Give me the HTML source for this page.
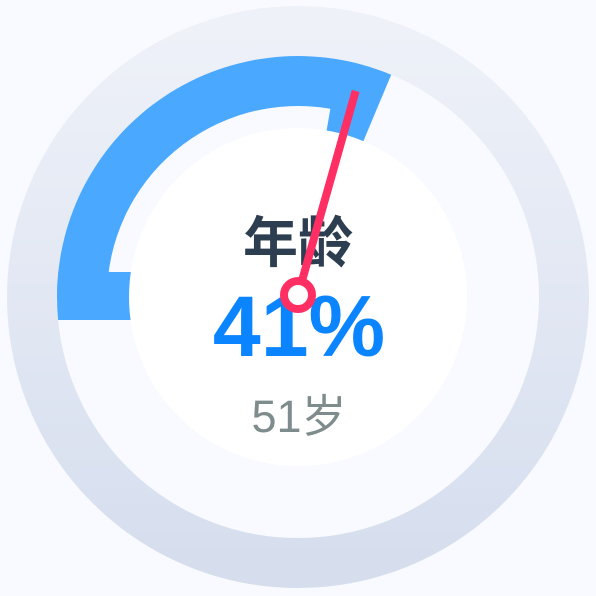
<!DOCTYPE html>
<html><head><meta charset="utf-8"><style>
html,body{margin:0;padding:0;background:#f8faff;}
svg{display:block;font-family:"Liberation Sans","Noto Sans CJK SC",sans-serif;}
</style></head><body>
<svg id="c" width="596" height="596" viewBox="0 0 596 596">
<defs><linearGradient id="g" x1="0" y1="0" x2="0" y2="1"><stop offset="0" stop-color="#eef1f8"/><stop offset="1" stop-color="#d6deee"/></linearGradient>
<clipPath id="clipOuter"><circle cx="298" cy="297" r="241"/></clipPath></defs>
<rect width="596" height="596" fill="#f8faff"/>
<circle cx="298" cy="297" r="266" fill="none" stroke="url(#g)" stroke-width="50"/>
<g id="marks"></g>
<text x="298" y="262" text-anchor="middle" font-size="55" font-weight="bold" fill="#2c3e50">年龄</text>
<text id="pct" x="299" y="356" text-anchor="middle" font-size="86" font-weight="bold" fill="#0a84ff">41%</text>
<text id="sub" x="299" y="432" text-anchor="middle" font-size="45" fill="#7f8c8d">51岁</text>
</svg>
<script>
const gaugeValue = [41];
const ageValue = [51];
const cx=298, cy=297, startDeg=-90, arcRange=275, needleRange=258;
const ns="http://www.w3.org/2000/svg";
const g=document.getElementById('marks');
function pt(r,deg){const a=deg*Math.PI/180;return [cx+r*Math.sin(a),cy-r*Math.cos(a)];}
function sector(r0,r1,a0,a1){
  const large=(a1-a0)>180?1:0;
  const [x0,y0]=pt(r1,a0),[x1,y1]=pt(r1,a1),[x2,y2]=pt(r0,a1),[x3,y3]=pt(r0,a0);
  return `M${x0},${y0}A${r1},${r1} 0 ${large} 1 ${x1},${y1}L${x2},${y2}A${r0},${r0} 0 ${large} 0 ${x3},${y3}Z`;
}
const endDeg=startDeg+gaugeValue[0]/100*arcRange;
const arc=document.createElementNS(ns,'path');
arc.setAttribute('d',sector(168,241,startDeg,endDeg));
arc.setAttribute('fill','#4aa8ff');


g.appendChild(arc);
const pale=document.createElementNS(ns,'path');
pale.setAttribute('d',sector(166,191,startDeg,endDeg-13));
pale.setAttribute('fill','#f8faff');


g.appendChild(pale);
const foot=document.createElementNS(ns,'rect');
foot.setAttribute('x',55);foot.setAttribute('y',272);foot.setAttribute('width',76);foot.setAttribute('height',48);
foot.setAttribute('fill','#4aa8ff');
foot.setAttribute('clip-path','url(#clipOuter)');


g.appendChild(foot);
const disc=document.createElementNS(ns,'circle');
disc.setAttribute('cx',cx);disc.setAttribute('cy',cy);disc.setAttribute('r',169);
disc.setAttribute('fill','#ffffff');


g.appendChild(disc);
document.getElementById('pct').textContent=gaugeValue[0]+'%';
document.getElementById('sub').textContent=ageValue[0]+'岁';
const nd=startDeg+gaugeValue[0]/100*needleRange;
const [tx,ty]=pt(212,nd),[px,py]=[cx,cy-2];
const ln=document.createElementNS(ns,'line');
ln.setAttribute('x1',px);ln.setAttribute('y1',py);ln.setAttribute('x2',tx);ln.setAttribute('y2',ty-2);
ln.setAttribute('stroke','#ff2e63');ln.setAttribute('stroke-width','8');


document.getElementById('c').appendChild(ln);
const pv=document.createElementNS(ns,'circle');
pv.setAttribute('cx',px);pv.setAttribute('cy',py);pv.setAttribute('r',14);
pv.setAttribute('fill','#ffffff');pv.setAttribute('stroke','#ff2e63');pv.setAttribute('stroke-width','8');


document.getElementById('c').appendChild(pv);
</script>
</body></html>
